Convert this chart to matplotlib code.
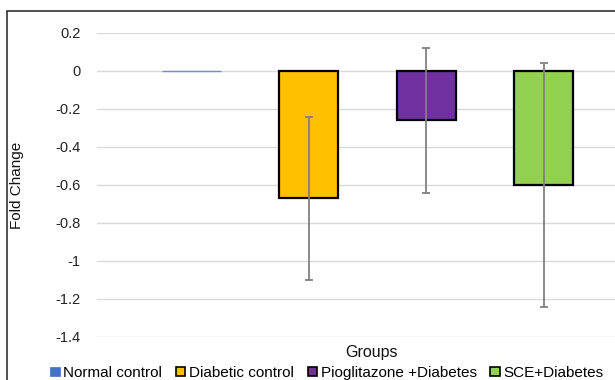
import matplotlib
matplotlib.use("Agg")
import matplotlib.pyplot as plt
from matplotlib.patches import Rectangle, Patch

plt.rcParams['font.family'] = ['Liberation Sans', 'DejaVu Sans']

groups = ["Normal control", "Diabetic control", "Pioglitazone +Diabetes", "SCE+Diabetes"]
values = [0.0, -0.67, -0.26, -0.60]
errors = [0.0, 0.43, 0.38, 0.64]
colors = ["#4472C4", "#FFC000", "#7030A0", "#92D050"]
yticks = [0.2, 0, -0.2, -0.4, -0.6, -0.8, -1, -1.2, -1.4]
ytick_labels = ["0.2", "0", "-0.2", "-0.4", "-0.6", "-0.8", "-1", "-1.2", "-1.4"]

W, H = 615, 380
fig = plt.figure(figsize=(W / 100, H / 100), dpi=100)

# outer chart border (cropped on right and bottom)
fig.patches.append(Rectangle((7 / W, -0.1), 1.2, 1 - 11 / H + 0.1,
                             transform=fig.transFigure, fill=False,
                             edgecolor="#333333", linewidth=1.2))

ax = fig.add_axes([97 / W, 1 - 337 / H, 541 / W, 304 / H])
ax.set_ylim(-1.4, 0.2)
half = 541 / 117.5 / 2
ax.set_xlim(-half, half)

positions = [-1.5, -0.5, 0.5, 1.5]
for i, (p, v, e, c) in enumerate(zip(positions, values, errors, colors)):
    if i == 0:
        ax.bar(p, v, width=0.5, color=c, edgecolor="#6F8FD0", linewidth=1.0, zorder=3)
    else:
        ax.bar(p, v, width=0.5, color=c, edgecolor="black", linewidth=1.6, zorder=3)
        ax.errorbar(p, v, yerr=e, fmt="none", ecolor="#808080", elinewidth=1.3,
                    capsize=2.6, capthick=1.3, zorder=4)

ax.set_yticks(yticks)
ax.set_yticklabels(ytick_labels, fontsize=10.5, color="#222222")
ax.tick_params(axis="y", length=0, pad=12)
ax.set_xticks([])
for s in ax.spines.values():
    s.set_visible(False)
ax.grid(axis="y", color="#d9d9d9", linewidth=1.0, zorder=0)
ax.set_axisbelow(True)

fig.text(17 / W, 1 - 185 / H, "Fold Change", rotation=90, ha="center", va="center",
         fontsize=11, color="#111111")
fig.text(372 / W, 1 - 352 / H, "Groups", ha="center", va="center",
         fontsize=11.5, color="#111111")

handles = [Patch(facecolor=colors[0], edgecolor=colors[0], linewidth=0.5)]
for c in colors[1:]:
    handles.append(Patch(facecolor=c, edgecolor="black", linewidth=1.2))
fig.legend(handles, groups, loc="center", bbox_to_anchor=(327 / W, 1 - 373 / H),
           ncol=4, frameon=False, fontsize=11, handlelength=0.6, handleheight=0.6,
           handletextpad=0.25, columnspacing=0.9, borderaxespad=0, borderpad=0)

fig.savefig("out.png", dpi=100)
